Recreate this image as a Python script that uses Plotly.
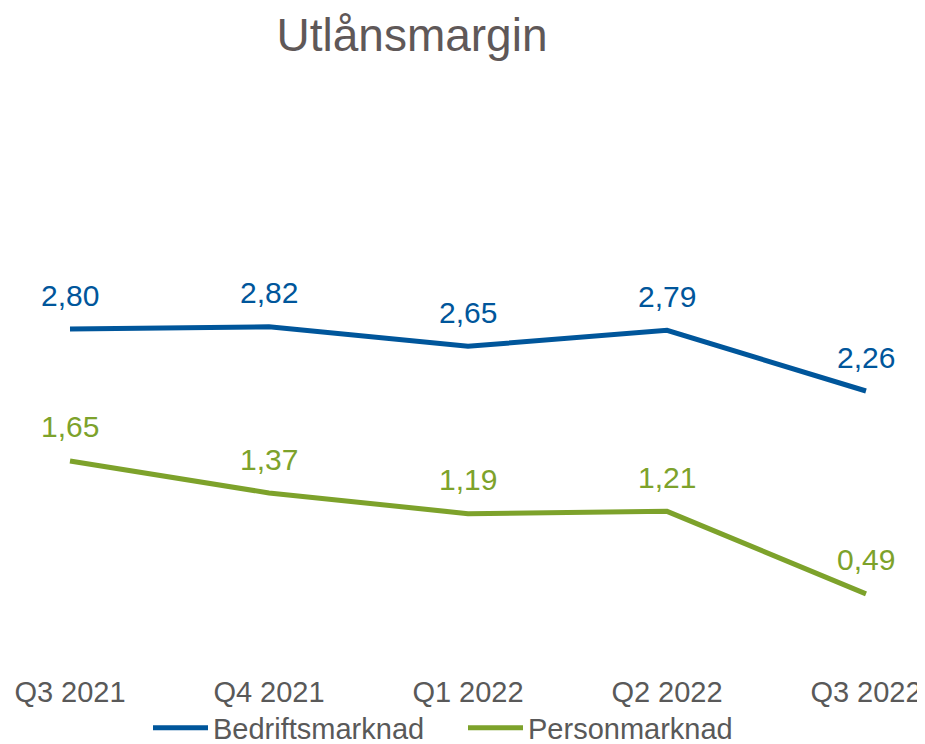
import plotly.graph_objects as go

categories = ["Q3 2021", "Q4 2021", "Q1 2022", "Q2 2022", "Q3 2022"]
bedrift = [2.80, 2.82, 2.65, 2.79, 2.26]
person = [1.65, 1.37, 1.19, 1.21, 0.49]
series_names = ["Bedriftsmarknad", "Personmarknad"]
colors = ["#00569B", "#7DA22B"]

# page has an 8px body margin; figure fills the rest of the 925x744 window
W, H = 917, 736
FONT = "Liberation Sans, Arial, sans-serif"
STEP = 199
X0 = 62

x_idx = list(range(len(categories)))
fig = go.Figure()
annotations = []
for name, vals, col in zip(series_names, [bedrift, person], colors):
    fig.add_trace(go.Scatter(
        x=x_idx, y=vals, mode="lines", name=name,
        line=dict(color=col, width=5),
        hoverinfo="skip",
    ))
    for xi, v in zip(x_idx, vals):
        annotations.append(dict(
            x=xi, y=v, xref="x", yref="y",
            text=f"{v:.2f}".replace(".", ","),
            showarrow=False, yshift=34, yanchor="middle", xanchor="center",
            font=dict(family=FONT, size=30, color=col),
        ))

fig.update_layout(
    width=W, height=H,
    margin=dict(l=0, r=0, t=69, b=94, autoexpand=False),
    paper_bgcolor="white", plot_bgcolor="white",
    title=dict(text="Utlånsmargin", x=404 / W, xanchor="center",
               y=1 - 27 / H, yanchor="middle", yref="container",
               font=dict(family=FONT, size=46, color="#5F5858")),
    xaxis=dict(range=[-X0 / STEP, -X0 / STEP + W / STEP],
               tickmode="array", tickvals=x_idx, ticktext=categories,
               showgrid=False, zeroline=False, showline=False,
               ticks="outside", ticklen=16, tickcolor="rgba(0,0,0,0)",
               tickfont=dict(family=FONT, size=29, color="#595959"),
               fixedrange=True),
    yaxis=dict(range=[0, 5], visible=False, showgrid=False, zeroline=False,
               fixedrange=True),
    showlegend=True,
    legend=dict(orientation="h", x=140 / W, xanchor="left",
                yref="container", y=16 / H, yanchor="middle",
                font=dict(family=FONT, size=29, color="#595959"),
                itemwidth=55, entrywidth=245, entrywidthmode="pixels",
                bgcolor="rgba(0,0,0,0)"),
    annotations=annotations,
)

fig.write_html("out.html")
